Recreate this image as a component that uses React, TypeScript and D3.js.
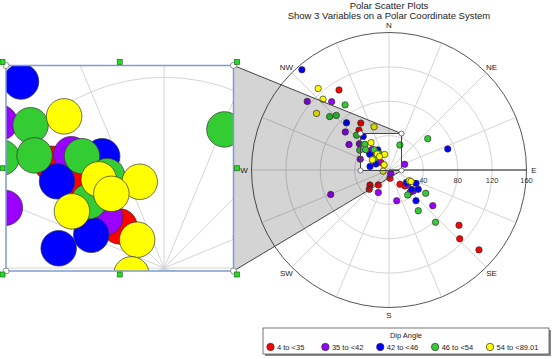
import React, { useRef, useEffect } from "react";
import * as d3 from "d3";

const dipBins = ["4 to <35", "35 to <42", "42 to <46", "46 to <54", "54 to <89.01"];
const dipColors = ["#ff0000", "#9900ff", "#0000ff", "#33cc33", "#ffff00"];
const radialTicks = [40, 80, 120, 160];
const compassLabels = ["N", "NE", "E", "SE", "S", "SW", "W", "NW"];

// one entry per sample: azimuth (deg clockwise from N), distance, dip angle class
const azimuth = [
  328, 329, 323, 312.9, 311.7, 313, 173, 231.7, 215.5, 225.6, 142.4, 135, 128.3, 134.2, 131.6,
  310, 320, 311, 302.5, 311.5, 320.8, 310.5, 290.7, 70, 155, 205.4, 247.2, 165.9, 127.4, 136.7, 130.8, 129.2,
  319, 318, 322.5, 331, 309, 294.5, 280.6, 70.3, 116.2, 125.5, 130.4, 123.4, 138.7,
  326, 312, 316, 317, 316.9, 304.2, 311, 323.7, 328.2, 311.5, 23.5, 51, 143.2, 122.4, 144.3, 138.3,
  319, 317, 308, 341, 326.6, 323.6, 344.2, 301.6, 324.6, 316.4, 259, 117.8, 117.6,
];
const distance = [
  109.8, 63.7, 58, 32.1, 26.3, 12.8, 9.7, 28.2, 21.4, 32.1, 21, 26.3, 103.8, 114.8, 140,
  124.2, 103.8, 67.4, 55.2, 46, 30.8, 16.3, 35.7, 19.4, 4.8, 29, 73.6, 36.9, 27.4, 35.7, 37.4, 65.7,
  154.5, 73.9, 49.3, 26.8, 28.9, 16.8, 22.5, 72.6, 35, 25, 34.7, 40.8, 47.6,
  91.4, 92.9, 88.3, 55.4, 41, 41.2, 36, 29.1, 22.7, 21.1, 31.7, 58, 36.3, 50.6, 58.4, 81.4,
  125.6, 112.6, 107, 53.2, 38.1, 23.1, 18.8, 22.7, 19.1, 8.2, 7, 26.7, 28.9,
];
const dipClass = [
  0, 0, 0, 0, 0, 0, 0, 0, 0, 0, 0, 0, 0, 0, 0,
  1, 1, 1, 1, 1, 1, 1, 1, 1, 1, 1, 1, 1, 1, 1, 1, 1,
  2, 2, 2, 2, 2, 2, 2, 2, 2, 2, 2, 2, 2,
  3, 3, 3, 3, 3, 3, 3, 3, 3, 3, 3, 3, 3, 3, 3, 3,
  4, 4, 4, 4, 4, 4, 4, 4, 4, 4, 4, 4, 4,
];

const W = 552;
const H = 359;
const font = "'Liberation Sans', Arial, sans-serif";

const App = () => {
  const ref = useRef(null);

  useEffect(() => {
    const svg = d3.select(ref.current);
    svg.selectAll("*").remove();

    const cx = 389;
    const cy = 170;
    const R = 137.5;
    const pr = 3.2;
    const rScale = d3.scaleLinear().domain([0, 160]).range([0, R]);
    const rad = (a) => (a * Math.PI) / 180;

    const points = azimuth.map((a, i) => ({ a, d: distance[i], c: dipClass[i] }));

    // draws grid + points of the polar plot into g
    const drawPolar = (g, ox, oy, k, main) => {
      const px = (a, r) => ox + r * k * Math.sin(rad(a));
      const py = (a, r) => oy - r * k * Math.cos(rad(a));

      g.selectAll(null)
        .data(d3.range(0, 360, 22.5))
        .join("line")
        .attr("x1", ox)
        .attr("y1", oy)
        .attr("x2", (a) => px(a, R))
        .attr("y2", (a) => py(a, R))
        .attr("stroke", "#d4d4d4")
        .attr("stroke-width", 1);

      g.selectAll(null)
        .data(radialTicks)
        .join("circle")
        .attr("cx", ox)
        .attr("cy", oy)
        .attr("r", (t) => rScale(t) * k)
        .attr("fill", "none")
        .attr("stroke", (t) => (t === 160 && main ? "#555" : "#d4d4d4"))
        .attr("stroke-width", 1);

      if (main) {
        g.append("line")
          .attr("x1", ox)
          .attr("y1", oy)
          .attr("x2", ox + R)
          .attr("y2", oy)
          .attr("stroke", "#222")
          .attr("stroke-width", 1);
      }

      g.selectAll(null)
        .data(points)
        .join("circle")
        .attr("cx", (d) => px(d.a, rScale(d.d)))
        .attr("cy", (d) => py(d.a, rScale(d.d)))
        .attr("r", pr * k)
        .attr("fill", (d) => dipColors[d.c])
        .attr("stroke", "#333")
        .attr("stroke-width", 0.7);
    };

    // titles
    svg
      .append("text")
      .attr("x", cx)
      .attr("y", 8.5)
      .attr("text-anchor", "middle")
      .style("font", `9.5px ${font}`)
      .attr("fill", "#222")
      .text("Polar Scatter Plots");
    svg
      .append("text")
      .attr("x", cx)
      .attr("y", 18.5)
      .attr("text-anchor", "middle")
      .style("font", `9.5px ${font}`)
      .attr("fill", "#222")
      .text("Show 3 Variables on a Polar Coordinate System");

    const main = svg.append("g");
    drawPolar(main, cx, cy, 1, true);

    // compass labels
    svg
      .selectAll(null)
      .data(compassLabels)
      .join("text")
      .attr("x", (t, i) => cx + 145 * Math.sin(rad(i * 45)))
      .attr("y", (t, i) => cy - 145 * Math.cos(rad(i * 45)) + 3)
      .attr("text-anchor", "middle")
      .style("font", `8px ${font}`)
      .attr("fill", "#222")
      .text((t) => t);

    // radial tick labels
    svg
      .selectAll(null)
      .data(radialTicks)
      .join("text")
      .attr("x", (t) => cx + rScale(t))
      .attr("y", cy + 13)
      .attr("text-anchor", "middle")
      .style("font", `7.5px ${font}`)
      .attr("fill", "#333")
      .text((t) => t);

    // zoom window (main px coords) and magnified box
    const zx0 = 360.5, zy0 = 133.5, zx1 = 401.5, zy1 = 170.5;
    const bx0 = 6, by0 = 65.5, bx1 = 233.5, by1 = 271;
    const k = (bx1 - bx0) / (zx1 - zx0);

    // shaded connector, with the small window cut out
    svg
      .append("path")
      .attr(
        "d",
        `M${bx1},${by0}L${zx1},${zy0}L${zx0},${zy0}L${zx0},${zy1}L${zx1},${zy1}L${bx1},${by1}Z`
      )
      .attr("fill", "rgba(0,0,0,0.17)");
    svg
      .append("path")
      .attr("d", `M${bx1},${by0}L${zx1},${zy0}M${bx1},${by1}L${zx1},${zy1}`)
      .attr("stroke", "#444")
      .attr("fill", "none");
    svg
      .append("rect")
      .attr("x", zx0)
      .attr("y", zy0)
      .attr("width", zx1 - zx0)
      .attr("height", zy1 - zy0)
      .attr("fill", "none")
      .attr("stroke", "#444");
    svg
      .selectAll(null)
      .data([
        [zx0, zy0],
        [zx1, zy0],
        [zx0, zy1],
        [zx1, zy1],
      ])
      .join("circle")
      .attr("cx", (d) => d[0])
      .attr("cy", (d) => d[1])
      .attr("r", 2.5)
      .attr("fill", "#fff")
      .attr("stroke", "#555")
      .attr("stroke-width", 0.8);

    svg
      .append("clipPath")
      .attr("id", "zoomclip")
      .append("rect")
      .attr("x", bx0)
      .attr("y", by0)
      .attr("width", bx1 - bx0)
      .attr("height", by1 - by0);
    svg
      .append("rect")
      .attr("x", bx0)
      .attr("y", by0)
      .attr("width", bx1 - bx0)
      .attr("height", by1 - by0)
      .attr("fill", "#fff");
    const zg = svg.append("g").attr("clip-path", "url(#zoomclip)");
    drawPolar(zg, bx0 + (cx - zx0) * k, by0 + (cy - zy0) * k, k, false);
    svg
      .append("rect")
      .attr("x", bx0)
      .attr("y", by0)
      .attr("width", bx1 - bx0)
      .attr("height", by1 - by0)
      .attr("fill", "none")
      .attr("stroke", "#7e9bd6")
      .attr("stroke-width", 1.5);

    // selection handles
    svg
      .selectAll(null)
      .data([
        [bx0, by0],
        [bx1, by0],
        [bx0, by1],
        [bx1, by1],
      ])
      .join("circle")
      .attr("cx", (d) => d[0])
      .attr("cy", (d) => d[1])
      .attr("r", 3)
      .attr("fill", "#fff")
      .attr("stroke", "#777")
      .attr("stroke-width", 0.8);
    const hx = [bx0 - 3.5, (bx0 + bx1) / 2, bx1 + 3.5];
    const hy = [by0 - 3.5, (by0 + by1) / 2, by1 + 3.5];
    const handles = [];
    hx.forEach((x, i) =>
      hy.forEach((y, j) => {
        if (!(i === 1 && j === 1)) handles.push([x, y]);
      })
    );
    svg
      .selectAll(null)
      .data(handles)
      .join("rect")
      .attr("x", (d) => d[0] - 2.5)
      .attr("y", (d) => d[1] - 2.5)
      .attr("width", 5)
      .attr("height", 5)
      .attr("fill", "#22dd22")
      .attr("stroke", "#226622")
      .attr("stroke-width", 0.7);

    // legend
    const lx = 263, ly = 328, lw = 286, lh = 26;
    svg
      .append("rect")
      .attr("x", lx + 2)
      .attr("y", ly + 2)
      .attr("width", lw)
      .attr("height", lh)
      .attr("fill", "#888");
    svg
      .append("rect")
      .attr("x", lx)
      .attr("y", ly)
      .attr("width", lw)
      .attr("height", lh)
      .attr("fill", "#fff")
      .attr("stroke", "#555")
      .attr("stroke-width", 0.8);
    svg
      .append("text")
      .attr("x", lx + lw / 2)
      .attr("y", ly + 10)
      .attr("text-anchor", "middle")
      .style("font", `7.5px ${font}`)
      .attr("fill", "#222")
      .text("Dip Angle");
    const legX = d3.scalePoint().domain(dipBins).range([270.5, 490]);
    const items = svg
      .selectAll(null)
      .data(dipBins)
      .join("g")
      .attr("transform", (b) => `translate(${legX(b)},${ly + 19})`);
    items
      .append("circle")
      .attr("r", 3.7)
      .attr("fill", (b, i) => dipColors[i])
      .attr("stroke", "#333")
      .attr("stroke-width", 0.7);
    items
      .append("text")
      .attr("x", 6.5)
      .attr("y", 2.7)
      .style("font", `7.5px ${font}`)
      .attr("fill", "#222")
      .text((b) => b);
  }, []);

  return (
    <div style={{ position: "absolute", left: 0, top: 0 }}>
      <svg ref={ref} width={W} height={H} style={{ display: "block", background: "#fff" }}></svg>
    </div>
  );
};

export default App;
